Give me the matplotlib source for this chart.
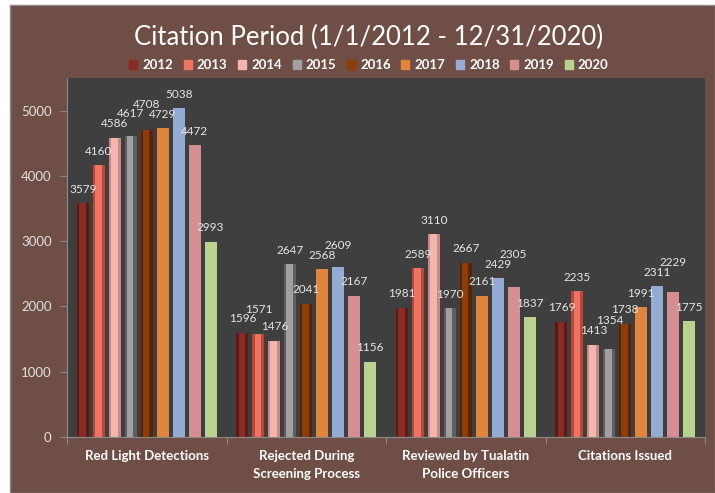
import matplotlib.pyplot as plt
import numpy as np
from matplotlib.patches import Rectangle

plt.rcParams["font.family"] = ["Lato", "DejaVu Sans"]

categories = ["Red Light Detections", "Rejected During\nScreening Process",
              "Reviewed by Tualatin\nPolice Officers", "Citations Issued"]
years = ["2012", "2013", "2014", "2015", "2016", "2017", "2018", "2019", "2020"]
values = {
    "2012": [3579, 1596, 1981, 1769],
    "2013": [4160, 1571, 2589, 2235],
    "2014": [4586, 1476, 3110, 1413],
    "2015": [4617, 2647, 1970, 1354],
    "2016": [4708, 2041, 2667, 1738],
    "2017": [4729, 2568, 2161, 1991],
    "2018": [5038, 2609, 2429, 2311],
    "2019": [4472, 2167, 2305, 2229],
    "2020": [2993, 1156, 1837, 1775],
}
colors = ["#8a2c24", "#f07461", "#f2b6ae", "#a0a0a0", "#8e3d06",
          "#e0853b", "#94abd3", "#d58f93", "#b9d28e"]
edge_colors = ["#5c1a15", "#b9483a", "#c88a83", "#5e5e5e", "#5a2400",
               None, None, None, None]

BROWN = "#6f4f45"
PLOT_BG = "#3f3f3f"
YMAX = 5500

fig = plt.figure(figsize=(7.15, 4.93), dpi=100, facecolor="white")
fig.patches.append(Rectangle((10 / 715, 0), 705 / 715, 488 / 493,
                             transform=fig.transFigure, facecolor=BROWN,
                             edgecolor="#8a8a8a", linewidth=1, zorder=0))

ax = fig.add_axes([67 / 715, 56 / 493, 638 / 715, 359 / 493])
ax.set_zorder(2)
ax.set_facecolor(PLOT_BG)

x = np.arange(len(categories))
slot = 0.1
width = 0.075
for i, year in enumerate(years):
    pos = x + (i - 4) * slot
    vals = values[year]
    if edge_colors[i] is not None:
        # bevelled look: dark sides, lighter core
        ax.bar(pos, vals, width, color=edge_colors[i], zorder=2)
        ax.bar(pos - width * 0.05, vals, width * 0.55, color=colors[i], zorder=3)
    else:
        ax.bar(pos, vals, width, color=colors[i], zorder=2)

# data labels, stacked upward when neighbouring labels would collide
gap = 130     # space above bar top
step = 150    # ~one label height
for g in range(len(categories)):
    prev = None
    for i, year in enumerate(years):
        v = values[year][g]
        y = v + gap
        if prev is not None and abs(y - prev) < step:
            y = prev + step
        prev = y
        ax.text(x[g] + (i - 4) * slot, y, str(v), ha="center", va="bottom",
                color="#e6e6e6", fontsize=8.5, zorder=5)

ax.set_xlim(-0.5, 3.5)
ax.set_ylim(0, YMAX)
ax.set_yticks(range(0, 6000, 1000))
ax.tick_params(axis="y", colors="#8a8a8a", labelcolor="#e0e0e0", labelsize=9.5,
               length=5, pad=6)
ax.set_xticks([-0.5, 0.5, 1.5, 2.5, 3.5])
ax.set_xticklabels([])
ax.tick_params(axis="x", which="major", colors="#8a8a8a", length=5)
ax.set_xticks(x, minor=True)
ax.set_xticklabels(categories, minor=True, fontweight="bold", color="white",
                   fontsize=9.5, linespacing=1.6)
ax.tick_params(axis="x", which="minor", length=0, pad=9)
for side in ["top", "right"]:
    ax.spines[side].set_visible(False)
for side in ["left", "bottom"]:
    ax.spines[side].set_color("#8a8a8a")

fig.text(0.516, 0.924, "Citation Period (1/1/2012 - 12/31/2020)", ha="center",
         va="center", color="white", fontsize=18.5)

handles = [Rectangle((0, 0), 1, 1, color=c) for c in colors]
fig.legend(handles, years, loc="center", bbox_to_anchor=(0.516, 0.868), ncol=9,
           frameon=False, handlelength=0.6, handleheight=0.6, handletextpad=0.4,
           columnspacing=0.8, prop={"weight": "bold", "size": 9.5},
           labelcolor="white")

fig.savefig("out.png", dpi=100, facecolor=fig.get_facecolor())
